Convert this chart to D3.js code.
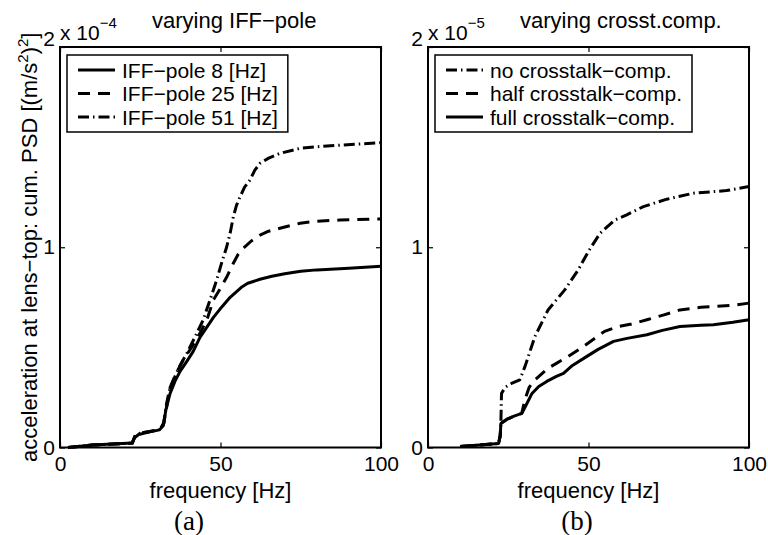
<!DOCTYPE html>
<html>
<head>
<meta charset="utf-8">
<script src="https://cdn.jsdelivr.net/npm/d3@7"></script>
<style>
body { margin: 0; background: #fff; }
svg text { font-family: "Liberation Sans", Arial, Helvetica, sans-serif; fill: #000; }
</style>
</head>
<body>
<svg width="768" height="535"></svg>
<script>
// panel (a): cum. PSD in units of 1e-4, [frequency Hz, value]
var iff8 = [[2.5,0],[10,0.012],[22.5,0.022],[23.3,0.05],[24.5,0.065],[28,0.078],[31,0.088],[32.2,0.11],[33,0.19],
  [34.3,0.27],[35.8,0.33],[37.4,0.38],[39.5,0.43],[41.5,0.48],[43.6,0.55],[45.7,0.6],[47.8,0.65],[49.8,0.69],
  [53,0.75],[56.5,0.8],[58.5,0.82],[62.3,0.84],[66,0.855],[70,0.868],[75,0.88],[80,0.887],[90,0.895],[100,0.905]];
var iff25 = [[2.5,0],[10,0.012],[22.5,0.022],[23.3,0.055],[24.5,0.07],[28,0.08],[31,0.09],[32.3,0.12],[33.2,0.2],
  [34.3,0.3],[36.5,0.38],[38.4,0.437],[41,0.5],[43.6,0.57],[45.8,0.64],[47.8,0.737],[49.8,0.79],[51.9,0.85],
  [54,0.92],[55.5,0.965],[57.1,0.995],[59.5,1.03],[62.3,1.06],[65,1.08],[68.5,1.095],[74.8,1.12],[80,1.13],
  [87.2,1.136],[100,1.141]];
var iff51 = [[2.5,0],[10,0.012],[22.5,0.022],[23.3,0.055],[24.5,0.07],[28,0.08],[31,0.09],[32.3,0.12],[33.2,0.22],
  [34,0.28],[35.3,0.337],[37.4,0.41],[39.5,0.47],[42,0.55],[44.6,0.637],[46.8,0.74],[48.8,0.836],[50.5,0.93],
  [51.9,1.0],[53,1.07],[54,1.152],[55,1.21],[56.1,1.252],[57.5,1.3],[59.2,1.336],[60.7,1.385],[62.3,1.419],
  [65,1.445],[68.5,1.469],[74.8,1.494],[80,1.502],[87.2,1.51],[100,1.522]];

// panel (b): cum. PSD in units of 1e-5
var noComp = [[10,0.005],[16,0.012],[22,0.02],[22.5,0.06],[22.7,0.12],[22.9,0.27],[24,0.3],[26,0.32],[28.6,0.338],
  [30.2,0.404],[33.3,0.554],[37.4,0.687],[42.6,0.787],[46.8,0.887],[50,0.98],[53.6,1.07],[58.2,1.136],
  [61.9,1.162],[67.1,1.203],[74.4,1.24],[82.7,1.27],[93,1.283],[100,1.303]];
var halfComp = [[10,0.005],[16,0.012],[22,0.02],[22.5,0.06],[22.7,0.12],[24.5,0.14],[26.6,0.155],[29.2,0.17],
  [30.2,0.24],[31.5,0.3],[33.3,0.338],[37.4,0.396],[40,0.42],[43.7,0.455],[48,0.5],[52,0.546],[55,0.58],
  [59.2,0.604],[63,0.615],[68.2,0.638],[73,0.66],[78.5,0.687],[85,0.7],[88.9,0.704],[95,0.71],[100,0.721]];
var fullComp = [[10,0.005],[16,0.012],[22,0.02],[22.5,0.06],[22.7,0.12],[24.5,0.14],[26.6,0.155],[29.2,0.17],
  [30.5,0.21],[32.4,0.27],[34.5,0.305],[37,0.33],[40,0.355],[42.2,0.37],[45,0.41],[49.5,0.455],[53,0.49],
  [57.8,0.53],[62,0.545],[68.2,0.563],[73,0.585],[78.5,0.604],[85,0.61],[88.9,0.613],[95,0.625],[100,0.638]];

var xTicks = [0, 50, 100];
var yTicks = [0, 1, 2];
var legendA = ["IFF\u2212pole 8 [Hz]", "IFF\u2212pole 25 [Hz]", "IFF\u2212pole 51 [Hz]"];
var legendB = ["no crosstalk\u2212comp.", "half crosstalk\u2212comp.", "full crosstalk\u2212comp."];

var svg = d3.select("svg");
var plotTop = 47, plotBottom = 447.5;
var dashes = { solid: null, dashed: "12,8", dashdot: "11,4,1.5,4" };

function drawPanel(opt) {
  var x = d3.scaleLinear().domain([0, 100]).range([opt.x0, opt.x1]);
  var y = d3.scaleLinear().domain([0, 2]).range([plotBottom, plotTop]);
  var g = svg.append("g");

  // ticks inside the box, on all four sides
  g.append("g").attr("transform", "translate(0," + plotBottom + ")")
      .call(d3.axisBottom(x).tickValues(xTicks).tickSizeInner(-5).tickSizeOuter(0).tickPadding(9));
  var leftAx = g.append("g").attr("transform", "translate(" + opt.x0 + ",0)")
      .call(d3.axisLeft(y).tickValues(yTicks).tickSizeInner(-5).tickSizeOuter(0).tickPadding(5).tickFormat(d3.format("d")));
  g.append("g").attr("transform", "translate(0," + plotTop + ")")
      .call(d3.axisTop(x).tickValues(xTicks).tickSizeInner(-5).tickSizeOuter(0).tickFormat(""));
  g.append("g").attr("transform", "translate(" + opt.x1 + ",0)")
      .call(d3.axisRight(y).tickValues(yTicks).tickSizeInner(-5).tickSizeOuter(0).tickFormat(""));
  g.selectAll(".domain").remove();
  g.selectAll(".tick line").attr("stroke", "#000").attr("stroke-width", 1.2);
  g.selectAll(".tick text").attr("font-size", 21).attr("font-family", null);
  leftAx.selectAll(".tick text").filter(function(d) { return d === 2; }).attr("dy", "-0.05em");

  g.append("rect")
      .attr("x", opt.x0).attr("y", plotTop)
      .attr("width", opt.x1 - opt.x0).attr("height", plotBottom - plotTop)
      .attr("fill", "none").attr("stroke", "#000").attr("stroke-width", 2);

  var line = d3.line().x(function(d) { return x(d[0]); }).y(function(d) { return y(d[1]); });
  opt.series.forEach(function(s) {
    g.append("path").datum(s.data)
        .attr("d", line)
        .attr("fill", "none").attr("stroke", "#000").attr("stroke-width", 3)
        .attr("stroke-linejoin", "round")
        .attr("stroke-dasharray", dashes[s.style]);
  });

  // legend
  var lg = g.append("g");
  var box = lg.append("rect")
      .attr("x", opt.x0 + 7).attr("y", plotTop + 8)
      .attr("height", 77).attr("fill", "#fff").attr("stroke", "#000").attr("stroke-width", 1.5);
  var maxW = 0;
  opt.series.forEach(function(s, i) {
    var cy = plotTop + 23 + i * 23.5;
    lg.append("line")
        .attr("x1", opt.x0 + 18).attr("x2", opt.x0 + 55)
        .attr("y1", cy).attr("y2", cy)
        .attr("stroke", "#000").attr("stroke-width", 3)
        .attr("stroke-dasharray", dashes[s.style]);
    var t = lg.append("text")
        .attr("x", opt.x0 + 62).attr("y", cy + 7.5)
        .attr("font-size", 21)
        .text(opt.labels[i]);
    maxW = Math.max(maxW, t.node().getComputedTextLength());
  });
  box.attr("width", 62 + maxW + 10 - 7);

  // title
  g.append("text").attr("x", opt.x0 + 92).attr("y", 28).attr("font-size", 22).text(opt.title);

  // exponent
  var ex = g.append("text").attr("x", opt.x0).attr("y", 40).attr("font-size", 21);
  ex.append("tspan").text("x 10");
  ex.append("tspan").attr("dy", -12).attr("font-size", 15).text(opt.exponent);

  // x label
  g.append("text")
      .attr("x", (opt.x0 + opt.x1) / 2).attr("y", plotBottom + 50)
      .attr("text-anchor", "middle").attr("font-size", 22)
      .text("frequency [Hz]");

  // panel letter
  g.append("text")
      .attr("x", opt.letterX).attr("y", 530)
      .attr("text-anchor", "middle").attr("font-size", 27)
      .style("font-family", "'Liberation Serif', 'Times New Roman', serif")
      .text(opt.letter);
}

drawPanel({
  x0: 60, x1: 381,
  series: [{data: iff8, style: "solid"}, {data: iff25, style: "dashed"}, {data: iff51, style: "dashdot"}],
  labels: legendA, title: "varying IFF\u2212pole", exponent: "\u22124", letter: "(a)", letterX: 189
});
drawPanel({
  x0: 428, x1: 749,
  series: [{data: noComp, style: "dashdot"}, {data: halfComp, style: "dashed"}, {data: fullComp, style: "solid"}],
  labels: legendB, title: "varying crosst.comp.", exponent: "\u22125", letter: "(b)", letterX: 577
});

// y label, left panel only
var yl = svg.append("text")
    .attr("transform", "translate(37," + (plotTop + plotBottom) / 2 + ") rotate(-90)")
    .attr("text-anchor", "middle").attr("font-size", 22);
yl.append("tspan").text("acceleration at lens\u2212top: cum. PSD [(m/s");
yl.append("tspan").attr("dy", -9).attr("font-size", 15).text("2");
yl.append("tspan").attr("dy", 9).text(")");
yl.append("tspan").attr("dy", -9).attr("font-size", 15).text("2");
yl.append("tspan").attr("dy", 9).text("]");
</script>
</body>
</html>
